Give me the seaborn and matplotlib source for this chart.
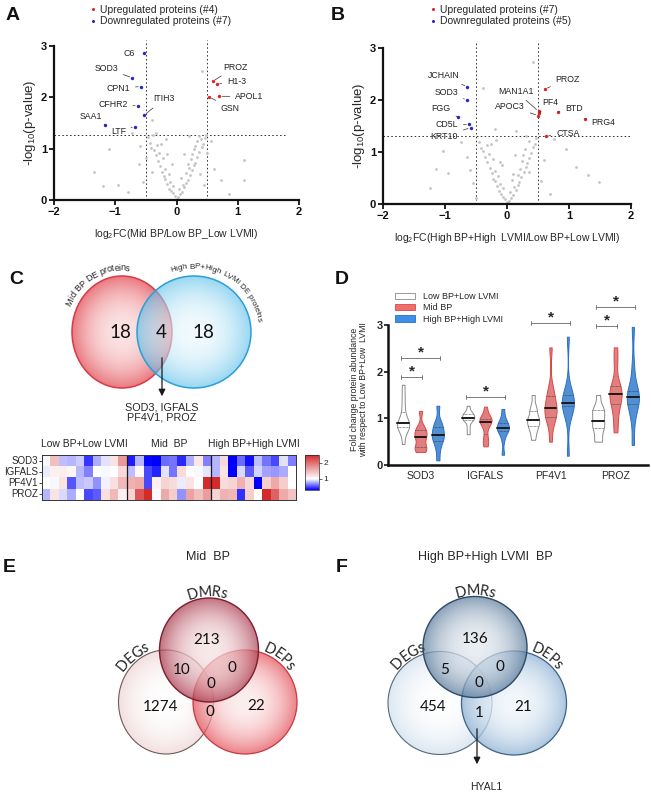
import numpy as np
import pandas as pd
import matplotlib
matplotlib.use("Agg")
import matplotlib.pyplot as plt
import seaborn as sns
from matplotlib.patches import Ellipse, Patch
from matplotlib.lines import Line2D
from matplotlib.colors import LinearSegmentedColormap, to_rgb
from matplotlib.font_manager import FontProperties, findfont
from matplotlib.ft2font import FT2Font

# ----------------------------- DATA -----------------------------
# Panel A volcano (Mid BP vs Low BP_Low LVMI)
a_down_names = ['C6', 'SOD3', 'CPN1', 'CFHR2', 'ITIH3', 'SAA1', 'LTF']
a_down_x = [-0.53, -0.72, -0.58, -0.63, -0.53, -1.16, -0.68]
a_down_y = [2.86, 2.38, 2.21, 1.83, 1.65, 1.46, 1.43]
a_up_names = ['PROZ', 'H1-3', 'APOL1', 'GSN']
a_up_x = [0.59, 0.66, 0.70, 0.53]
a_up_y = [2.31, 2.26, 2.02, 2.01]
a_gray_x = [0.00, 0.03, -0.03, 0.06, -0.06, 0.09, -0.09, 0.04, -0.12, 0.13, -0.05, 0.10, -0.15, 0.16,
            -0.10, 0.19, -0.18, 0.07, -0.21, 0.22, -0.13, 0.15, -0.24, 0.26, -0.18, 0.20, -0.27, 0.29,
            -0.07, 0.31, -0.31, 0.23, -0.22, 0.34, -0.34, 0.12, -0.28, 0.37, -0.37, 0.28, -0.41, 0.41,
            -0.32, 0.44, -0.44, 0.34, -0.17, 0.46, -0.47, 0.21, -0.39, 0.48, -0.40, 0.38, -0.50, 0.50,
            -0.60, 0.56, -0.55, 0.45, 0.36, 0.42, -0.40, -0.33, -0.73, -0.62, 0.62, -1.35, -1.10, -0.95,
            -1.20, -0.80, 1.10, 1.10, 0.72, 0.85, 0.30, 0.25, -0.25, 0.40, 0.18, -0.15]
a_gray_y = [0.02, 0.06, 0.08, 0.11, 0.13, 0.16, 0.18, 0.21, 0.22, 0.25, 0.27, 0.29, 0.31, 0.34,
            0.36, 0.38, 0.41, 0.43, 0.46, 0.48, 0.50, 0.53, 0.55, 0.58, 0.61, 0.63, 0.66, 0.69,
            0.71, 0.73, 0.76, 0.79, 0.81, 0.84, 0.87, 0.89, 0.91, 0.94, 0.97, 0.99, 1.01, 1.04,
            1.07, 1.10, 1.12, 1.15, 1.18, 1.20, 1.22, 1.25, 1.27, 1.26, 0.55, 0.50, 0.82, 0.92,
            1.05, 1.15, 0.35, 0.30, 1.24, 2.51, 1.56, 1.31, 1.31, 0.70, 0.60, 0.55, 1.00, 0.30,
            0.28, 0.15, 0.78, 0.38, 0.38, 0.12, 1.05, 0.90, 1.10, 1.18, 0.70, 0.90]

# Panel B volcano (High BP+High LVMI vs Low BP+Low LVMI)
b_down_names = ['JCHAIN', 'SOD3', 'FGG', 'CD5L', 'KRT10']
b_down_x = [-0.64, -0.645, -0.79, -0.61, -0.586]
b_down_y = [2.25, 2.00, 1.67, 1.53, 1.47]
b_up_names = ['PROZ', 'MAN1A1', 'PF4', 'APOC3', 'BTD', 'PRG4', 'CTSA']
b_up_x = [0.61, 0.51, 0.52, 0.505, 0.83, 1.26, 0.63]
b_up_y = [2.21, 1.78, 1.75, 1.70, 1.77, 1.64, 1.31]
b_gray_x = [0.00, 0.04, -0.04, 0.07, -0.07, 0.10, -0.10, 0.05, -0.13, 0.14, -0.06, 0.12, -0.16, 0.17,
            -0.11, 0.20, -0.19, 0.08, -0.22, 0.23, -0.14, 0.17, -0.25, 0.27, -0.19, 0.21, -0.28, 0.30,
            -0.08, 0.32, -0.32, 0.24, -0.23, 0.35, -0.35, 0.13, -0.29, 0.38, -0.38, 0.29, -0.42, 0.42,
            -0.33, 0.45, -0.45, 0.35, -0.18, 0.47, -0.20, 0.15, -0.38, 0.42, -1.04, -1.15, -1.25, -0.95,
            -0.75, -0.65, -0.55, 0.55, 0.75, 0.95, 1.11, 1.30, 1.49, 0.70, -0.50, 0.60, -0.60, 0.30,
            0.25, -0.26, 0.36, -0.12, 0.09]
b_gray_y = [0.03, 0.05, 0.09, 0.12, 0.14, 0.17, 0.20, 0.23, 0.25, 0.27, 0.30, 0.32, 0.34, 0.37,
            0.39, 0.42, 0.44, 0.46, 0.49, 0.51, 0.54, 0.56, 0.59, 0.61, 0.64, 0.67, 0.70, 0.72,
            0.75, 0.78, 0.80, 0.83, 0.86, 0.88, 0.91, 0.94, 0.96, 0.99, 1.02, 1.05, 1.08, 1.10,
            1.13, 1.16, 1.19, 1.21, 1.24, 1.26, 1.45, 1.40, 2.23, 2.74, 1.01, 0.68, 0.30, 0.60,
            1.20, 0.90, 0.40, 0.45, 1.25, 1.05, 0.72, 0.55, 0.43, 0.20, 0.12, 0.85, 0.65, 1.30,
            0.95, 1.15, 0.62, 0.80, 0.58]

# Panel C / D : fold change per sample (10 samples per group)
proteins = ['SOD3', 'IGFALS', 'PF4V1', 'PROZ']
groups = ['Low BP+Low LVMI', 'Mid BP', 'High BP+High LVMI']
heat_titles = ['Low BP+Low LVMI', 'Mid  BP', 'High BP+High LVMI']
sod3_low = [0.98, 1.45, 0.82, 0.80, 0.86, 0.45, 0.78, 0.92, 1.20, 1.72]
sod3_mid = [0.38, 0.80, 0.32, 0.28, 0.60, 0.62, 0.42, 0.78, 1.16, 0.66]
sod3_high = [0.80, 1.27, 0.10, 0.60, 0.35, 0.82, 0.62, 0.50, 0.92, 0.65]
igfals_low = [0.95, 1.10, 1.12, 1.08, 0.80, 0.66, 1.00, 0.98, 1.02, 1.27]
igfals_mid = [0.82, 1.05, 0.50, 0.40, 0.92, 0.62, 1.25, 1.00, 0.98, 0.93]
igfals_high = [0.80, 1.20, 0.22, 0.90, 0.55, 0.88, 0.75, 0.72, 0.77, 1.00]
pf4v1_low = [1.00, 0.98, 1.20, 0.54, 0.82, 0.85, 0.70, 0.97, 1.22, 1.50]
pf4v1_mid = [1.55, 1.60, 0.50, 1.10, 1.30, 1.25, 0.95, 1.20, 1.00, 2.52]
pf4v1_high = [2.75, 1.25, 1.30, 1.55, 1.28, 0.20, 1.34, 1.60, 1.35, 1.02]
proz_low = [0.80, 1.20, 0.90, 0.78, 1.00, 0.50, 0.55, 1.22, 1.50, 1.10]
proz_mid = [1.30, 2.20, 2.52, 0.98, 1.60, 1.35, 0.70, 1.65, 1.45, 1.70]
proz_high = [1.30, 1.55, 1.50, 0.43, 1.35, 1.00, 2.96, 2.10, 1.60, 1.42]
c_counts = ['18', '4', '18']
c_shared = ['SOD3, IGFALS', 'PF4V1, PROZ']
# significance brackets: (protein index, group a, group b, height)
sig_pairs = [(0, 0, 1, 1.88), (0, 0, 2, 2.29), (1, 0, 2, 1.46), (2, 0, 2, 3.05), (3, 0, 1, 2.98), (3, 0, 2, 3.39)]

# Panels E / F Venn counts: DMR only, DEG&DMR, DMR&DEP, all, DEG only, DEG&DEP, DEP only
e_counts = ['213', '10', '0', '0', '1274', '0', '22']
f_counts = ['136', '5', '0', '0', '454', '1', '21']

# ----------------------------- FIGURE -----------------------------
sns.set_theme(style="ticks")
plt.rcParams["font.family"] = ["Liberation Sans", "DejaVu Sans"]
plt.rcParams["mathtext.fontset"] = "custom"
plt.rcParams["mathtext.rm"] = "Liberation Sans"

W, H = 651, 792
fig = plt.figure(figsize=(W / 100, H / 100), dpi=100)
fig.patch.set_facecolor("white")


def rect(l, t, r, b):
    return [l / W, 1 - b / H, (r - l) / W, (b - t) / H]


axA = fig.add_axes(rect(54, 46, 299, 200))
axB = fig.add_axes(rect(383, 48, 631, 204))
axH = fig.add_axes(rect(42, 455, 296, 500))
cax = fig.add_axes(rect(305, 455, 319, 490))
axD = fig.add_axes(rect(388, 290, 648, 465))
ov = fig.add_axes([0, 0, 1, 1], zorder=5)
ov.patch.set_visible(False)
ov.axis("off")

RED = "#e02424"
BLUE = "#2626c8"
GRAY = "#c4c4c4"
DOT = (0, (1.6, 2.4))


def volcano(ax, gx, gy, dn_n, dn_x, dn_y, up_n, up_x, up_y, labpos, vl, hl, hl_end, xlabel, legtxt, legx):
    sns.scatterplot(x=gx, y=gy, color=GRAY, s=4, linewidth=0, ax=ax, zorder=2)
    sns.scatterplot(x=dn_x, y=dn_y, color=BLUE, s=6, linewidth=0, ax=ax, zorder=3)
    sns.scatterplot(x=up_x, y=up_y, color=RED, s=6, linewidth=0, ax=ax, zorder=3)
    for v in vl:
        ax.plot([v, v], [0, 3.12], ls=DOT, color="#333", lw=0.7, clip_on=False, zorder=1)
    ax.plot([-2, hl_end], [hl, hl], ls=DOT, color="#333", lw=0.7, zorder=1)
    for names, xs, ys in ((dn_n, dn_x, dn_y), (up_n, up_x, up_y)):
        for n, x, y in zip(names, xs, ys):
            tx, ty, line = labpos[n]
            if line:
                ax.annotate(n, xy=(x, y), xytext=(tx, ty), ha="center", va="center", fontsize=6.3,
                            color="#222", arrowprops=dict(arrowstyle="-", lw=0.5, color="#333",
                                                          shrinkA=1.5, shrinkB=2))
            else:
                ax.text(tx, ty, n, ha="center", va="center", fontsize=6.3, color="#222")
    ax.set_xlim(-2, 2)
    ax.set_ylim(0, 3)
    ax.set_xticks([-2, -1, 0, 1, 2])
    ax.set_yticks([0, 1, 2, 3])
    for s in ["top", "right"]:
        ax.spines[s].set_visible(False)
    for s in ["left", "bottom"]:
        ax.spines[s].set_linewidth(1.6)
        ax.spines[s].set_color("#111")
    ax.tick_params(direction="out", length=3.5, width=1.3, labelsize=8, pad=1.5, colors="#111")
    for lab in ax.get_xticklabels() + ax.get_yticklabels():
        lab.set_fontweight("bold")
    ax.set_xlabel(xlabel, fontsize=7.5, labelpad=7)
    ax.set_ylabel(r"-log$_{\mathregular{10}}$(p-value)", fontsize=9.5, labelpad=2)
    handles = [Line2D([], [], ls="", marker="o", ms=2.2, color=RED, mew=0),
               Line2D([], [], ls="", marker="o", ms=2.2, color=BLUE, mew=0)]
    ax.legend(handles, legtxt, loc="upper left", bbox_to_anchor=(legx / W, 1 - 5 / H),
              bbox_transform=fig.transFigure, frameon=False, fontsize=7.5, handlelength=0.6,
              handletextpad=0.4, labelspacing=0.12, borderpad=0, borderaxespad=0)


a_lab = {'C6': (-0.77, 2.85, False), 'SOD3': (-1.15, 2.56, True), 'CPN1': (-0.95, 2.18, True),
         'CFHR2': (-1.04, 1.87, True), 'ITIH3': (-0.2, 1.97, True), 'SAA1': (-1.4, 1.62, True),
         'LTF': (-0.95, 1.33, True), 'PROZ': (0.96, 2.59, True), 'H1-3': (0.98, 2.31, True),
         'APOL1': (1.19, 2.02, True), 'GSN': (0.88, 1.79, True)}
b_lab = {'JCHAIN': (-1.02, 2.47, True), 'SOD3': (-0.98, 2.15, True), 'FGG': (-1.06, 1.84, True),
         'CD5L': (-0.97, 1.52, True), 'KRT10': (-1.01, 1.30, True), 'PROZ': (0.98, 2.40, True),
         'MAN1A1': (0.14, 2.17, True), 'PF4': (0.70, 1.96, True), 'APOC3': (0.05, 1.88, True),
         'BTD': (1.08, 1.84, True), 'PRG4': (1.56, 1.57, True), 'CTSA': (0.98, 1.36, True)}

volcano(axA, a_gray_x, a_gray_y, a_down_names, a_down_x, a_down_y, a_up_names, a_up_x, a_up_y,
        a_lab, [-0.5, 0.5], 1.27, 1.78, "log$_{\\mathregular{2}}$FC(Mid BP/Low BP_Low LVMI)",
        ["Upregulated proteins (#4)", "Downregulated proteins (#7)"], 90)
volcano(axB, b_gray_x, b_gray_y, b_down_names, b_down_x, b_down_y, b_up_names, b_up_x, b_up_y,
        b_lab, [-0.5, 0.5], 1.30, 2.0, "log$_{\\mathregular{2}}$FC(High BP+High  LVMI/Low BP+Low LVMI)",
        ["Upregulated proteins (#7)", "Downregulated proteins (#5)"], 430)

# ----------------------------- heatmap -----------------------------
fc_table = {'SOD3': [sod3_low, sod3_mid, sod3_high], 'IGFALS': [igfals_low, igfals_mid, igfals_high],
            'PF4V1': [pf4v1_low, pf4v1_mid, pf4v1_high], 'PROZ': [proz_low, proz_mid, proz_high]}
heat = np.array([np.concatenate(fc_table[p]) for p in proteins])
vmin, vmax = 0.3, 2.5
cmap = LinearSegmentedColormap.from_list(
    "bwr_fc", [(0, "#0000ff"), ((1 - vmin) / (vmax - vmin), "#ffffff"), (1, "#d42a2a")])
sns.heatmap(heat, ax=axH, cmap=cmap, vmin=vmin, vmax=vmax, cbar_ax=cax,
            xticklabels=False, yticklabels=proteins)
nper = len(sod3_low)
for k in range(1, 3):
    axH.axvline(k * nper, color="k", lw=0.9)
for s in axH.spines.values():
    s.set_visible(True)
    s.set_linewidth(0.7)
    s.set_color("#333")
axH.tick_params(axis="y", left=True, length=2, width=0.6, pad=1, labelsize=7, rotation=0)
axH.tick_params(axis="x", bottom=False)
for k, t in enumerate(heat_titles):
    axH.text(k * nper + nper / 2, -0.55, t, ha="center", va="bottom", fontsize=7.5)
cb = axH.collections[0].colorbar
cb.set_ticks([1, 2])
cb.outline.set_linewidth(0.5)
cax.tick_params(labelsize=6, length=2, width=0.5, pad=1)

# ----------------------------- violins -----------------------------
rows = []
for p in proteins:
    for g, vals in zip(groups, fc_table[p]):
        for v in vals:
            rows.append((p, g, v))
df = pd.DataFrame(rows, columns=["protein", "group", "fc"])
fills = ["#ffffff", "#f26d6d", "#3d8fe8"]
edges = ["#8a8a8a", "#d84848", "#2a6fc8"]
sns.violinplot(data=df, x="protein", y="fc", hue="group", order=proteins, hue_order=groups,
               palette=fills, inner="quart", cut=0, bw_adjust=0.6, density_norm="width",
               width=0.8, gap=0.3, linewidth=0.7, ax=axD, legend=False)
for coll in axD.collections:
    fcol = coll.get_facecolor()
    if len(fcol) == 0:
        continue
    rgb = np.array(fcol[0][:3])
    d = [np.sum((rgb - np.array(to_rgb(c))) ** 2) for c in fills]
    coll.set_edgecolor(edges[int(np.argmin(d))])
    coll.set_linewidth(0.7)
for i, ln in enumerate(axD.lines):
    if i % 3 == 1:
        ln.set_linestyle("-")
        ln.set_linewidth(1.4)
        ln.set_color("k")
    else:
        ln.set_linestyle((0, (1, 1)))
        ln.set_linewidth(0.5)
        ln.set_color("#333")
off = [-0.8 / 3, 0, 0.8 / 3]
for p, g1, g2, y in sig_pairs:
    x1 = p + off[g1] - 0.03
    x2 = p + off[g2] + 0.03
    axD.plot([x1, x2], [y, y], color="#666", lw=0.6)
    axD.plot([x1, x1], [y - 0.04, y + 0.04], color="#666", lw=0.6)
    axD.plot([x2, x2], [y - 0.04, y + 0.04], color="#666", lw=0.6)
    axD.text((x1 + x2) / 2, y + 0.03, "*", ha="center", va="baseline", fontsize=11, fontweight="bold")
axD.set_xlim(-0.5, 3.5)
axD.set_ylim(0, 3.75)
axD.set_yticks([0, 1, 2, 3])
axD.spines["left"].set_bounds(0, 3)
for s in ["top", "right"]:
    axD.spines[s].set_visible(False)
for s in ["left", "bottom"]:
    axD.spines[s].set_linewidth(1.8)
    axD.spines[s].set_color("#111")
axD.tick_params(axis="y", direction="out", length=3, width=1.3, labelsize=8, pad=1)
axD.tick_params(axis="x", length=0, labelsize=7.5, pad=4)
for lab in axD.get_yticklabels():
    lab.set_fontweight("bold")
axD.set_xlabel("")
axD.set_ylabel("Fold change protein abundance\nwith respect to Low BP+Low  LVMI", fontsize=6.3,
               linespacing=1.1)
axD.yaxis.set_label_coords(-0.075, 0.43)
leg_handles = [Patch(facecolor=f, edgecolor=e, lw=0.6) for f, e in zip(fills, edges)]
axD.legend(leg_handles, groups, loc="upper left", bbox_to_anchor=(395 / W, 1 - 292 / H),
           bbox_transform=fig.transFigure, frameon=False, fontsize=6.5, handlelength=2.2,
           handleheight=0.75, labelspacing=0.25, handletextpad=0.9, borderpad=0, borderaxespad=0)

# ----------------------------- overlay: venns, letters -----------------------------
_font_cache = {}


def adv(ch, fs, family, weight):
    key = (family, weight)
    if key not in _font_cache:
        _font_cache[key] = FT2Font(findfont(FontProperties(family=family, weight=weight)))
    f = _font_cache[key]
    f.set_size(fs, 100)
    g = f.load_char(ord(ch))
    return g.linearHoriAdvance / 65536


def curved_text(s, cx, cy, rx, ry, ang, fs, family="Liberation Sans", weight="normal", color="#222"):
    widths = [adv(ch, fs, family, weight) for ch in s]
    R = (rx + ry) / 2
    a = np.radians(ang) + sum(widths) / (2 * R)
    for ch, w in zip(s, widths):
        ac = a - w / (2 * R)
        ov.text(cx + rx * np.cos(ac), cy - ry * np.sin(ac), ch, rotation=np.degrees(ac) - 90,
                rotation_mode="anchor", ha="center", va="center", fontsize=fs, family=family,
                fontweight=weight, color=color)
        a -= w / R


def grad_ellipse(cx, cy, w, h, c_in, c_out, edge, alpha, lw=1.0, z=1, power=2.2):
    n = 240
    yy, xx = np.mgrid[-1:1:complex(0, n), -1:1:complex(0, n)]
    r = np.clip(np.hypot(xx, yy), 0, 1)
    t = (r ** power)[..., None]
    ci = np.array(to_rgb(c_in))
    co = np.array(to_rgb(c_out))
    rgb = ci * (1 - t) + co * t
    rgba = np.concatenate([rgb, np.full((n, n, 1), alpha)], axis=2)
    im = ov.imshow(rgba, extent=(cx - w / 2, cx + w / 2, cy + h / 2, cy - h / 2), aspect="auto",
                   zorder=z, interpolation="bilinear")
    im.set_clip_path(Ellipse((cx, cy), w, h, transform=ov.transData))
    ov.add_patch(Ellipse((cx, cy), w, h, facecolor="none", edgecolor=edge, lw=lw, zorder=z + 0.1))


# Panel C venn
grad_ellipse(122, 332, 100, 112, "#fbe0e0", "#e86a72", "#d83a48", 0.9, lw=1.1, z=1)
grad_ellipse(194, 332, 114, 112, "#e8f7fd", "#55bde9", "#2a9fd8", 0.6, lw=1.1, z=2)
curved_text("Mid BP DE proteins", 122, 332, 59, 64, 119, 6.5)
curved_text("High BP+High LVMI DE proteins", 194, 332, 66, 65, 60, 5.8)
for (x, t) in zip([120, 161, 203], c_counts):
    ov.text(x, 333, t, ha="center", va="center", fontsize=13.5, family="Lato", color="#111", zorder=6)
ov.annotate("", xy=(162, 399), xytext=(162, 355),
            arrowprops=dict(arrowstyle="-|>", color="k", lw=0.9, mutation_scale=10), zorder=6)
ov.text(162, 407, c_shared[0], ha="center", va="center", fontsize=7.8)
ov.text(162, 418, c_shared[1], ha="center", va="center", fontsize=7.8)

# Panel E venn (Mid BP) - reds
ov.text(208, 557, "Mid  BP", ha="center", va="center", fontsize=9)
grad_ellipse(166, 702, 95, 104, "#ffffff", "#f1dada", "#6e5a5a", 0.85, lw=0.8, z=1)
grad_ellipse(245, 702, 104, 104, "#fde8e8", "#e5505a", "#c83a42", 0.72, lw=0.9, z=2)
grad_ellipse(209, 650, 99, 104, "#f6e2e2", "#ab3c50", "#7a1f30", 0.72, lw=1.0, z=3)
curved_text("DMRs", 209, 650, 55, 58, 92, 10.5, family="Lato")
curved_text("DEGs", 166, 702, 55, 58, 128, 10.5, family="Lato")
curved_text("DEPs", 245, 702, 58, 58, 53, 10.5, family="Lato")
e_pos = [(207, 640), (182, 670), (232, 668), (211, 684), (161, 707), (210, 712), (256, 706)]
for (x, y), t in zip(e_pos, e_counts):
    ov.text(x, y, t, ha="center", va="center", fontsize=11, family="Lato", color="#111", zorder=6)

# Panel F venn (High BP+High LVMI) - blues
ov.text(485, 557, "High BP+High LVMI  BP", ha="center", va="center", fontsize=9)
grad_ellipse(440, 703, 104, 103, "#ffffff", "#d6e4f0", "#5a6878", 0.85, lw=0.8, z=1)
grad_ellipse(514, 703, 105, 104, "#eef5fb", "#8fb2d4", "#3d6285", 0.75, lw=0.9, z=2)
grad_ellipse(475, 647, 104, 101, "#e2e8ef", "#5c7c9c", "#2f4a66", 0.72, lw=1.0, z=3)
curved_text("DMRs", 475, 647, 56, 56, 90, 10.5, family="Lato")
curved_text("DEGs", 440, 703, 58, 58, 124, 10.5, family="Lato")
curved_text("DEPs", 514, 703, 58, 58, 55, 10.5, family="Lato")
f_pos = [(475, 639), (445, 670), (500, 667), (479, 683), (433, 707), (479, 713), (523, 707)]
for (x, y), t in zip(f_pos, f_counts):
    ov.text(x, y, t, ha="center", va="center", fontsize=11, family="Lato", color="#111", zorder=6)
ov.annotate("", xy=(477, 767), xytext=(477, 726),
            arrowprops=dict(arrowstyle="-|>", color="k", lw=0.9, mutation_scale=10), zorder=6)
ov.text(486, 787, "HYAL1", ha="center", va="center", fontsize=7.5)

# panel letters
for letter, x, y in [("A", 13, 15), ("B", 338, 15), ("C", 16, 280), ("D", 342, 280),
                     ("E", 9, 568), ("F", 342, 568)]:
    ov.text(x, y, letter, ha="center", va="center", fontsize=14, fontweight="bold", color="#111")

ov.set_xlim(0, W)
ov.set_ylim(H, 0)

fig.savefig("out.png", dpi=100, facecolor="white")
